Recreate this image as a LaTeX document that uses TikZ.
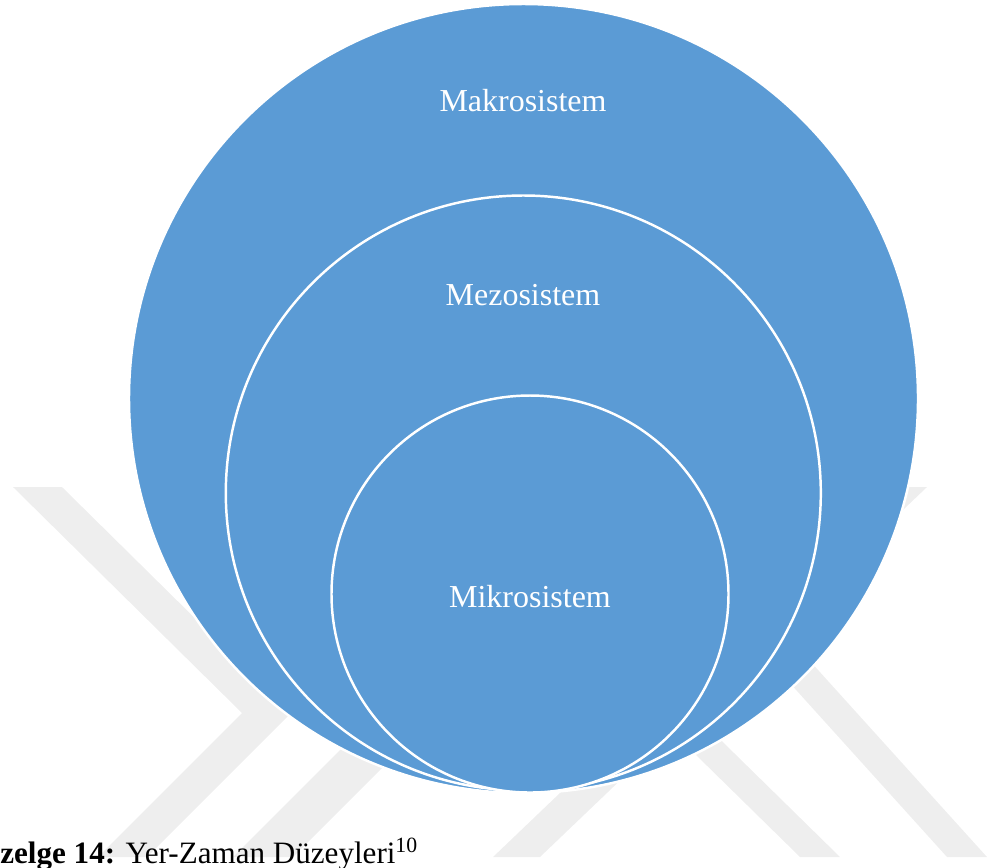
\documentclass[tikz,border=0pt]{standalone}
\usepackage{fontspec}
\setmainfont{Liberation Serif}
\definecolor{ringblue}{HTML}{5B9BD5}
\definecolor{markgray}{HTML}{EEEEEE}
\begin{document}
\begin{tikzpicture}[x=0.02cm,y=-0.02cm,
  ring/.style={circle,fill=ringblue,draw=white,line width=1.4pt,inner sep=0pt},
  ringlabel/.style={text=white,font=\fontsize{18.2}{21}\selectfont,anchor=base},
  mark/.style={fill=markgray,draw=none}]
\useasboundingbox (0,0) rectangle (987,867);
% faint background chevrons
\fill[markgray] (13,487) -- (62,487) -- (291,713) -- (147,857) -- (98,857) -- (242,713) -- cycle;
\fill[markgray] (233,857) -- (293,857) -- (450,700) -- (390,700) -- cycle;
\fill[markgray] (493,857) -- (540,857) -- (927,487) -- (880,487) -- cycle;
\fill[markgray] (640,700) -- (680,700) -- (840,857) -- (800,857) -- cycle;
\fill[markgray] (760,650) -- (800,650) -- (987,857) -- (947,857) -- cycle;
% nested circles
\node[ring,minimum size=789*0.02cm] (makro) at (523.5,398.5) {};
\node[ring,minimum size=595*0.02cm] (mezo) at (523.3,493) {};
\node[ring,minimum size=397*0.02cm] (mikro) at (530,594) {};
\node[ringlabel] (makrolbl) at (523,111) {Makrosistem};
\node[ringlabel] (mezolbl) at (523,305) {Mezosistem};
\node[ringlabel] (mikrolbl) at (530,607) {Mikrosistem};
% caption
\node[anchor=base west,inner sep=0pt,font=\fontsize{17.7}{21}\selectfont] (caption) at (0,863)
  {\textbf{zelge 14:} Yer-Zaman Düzeyleri\textsuperscript{10}};
\end{tikzpicture}
\end{document}
